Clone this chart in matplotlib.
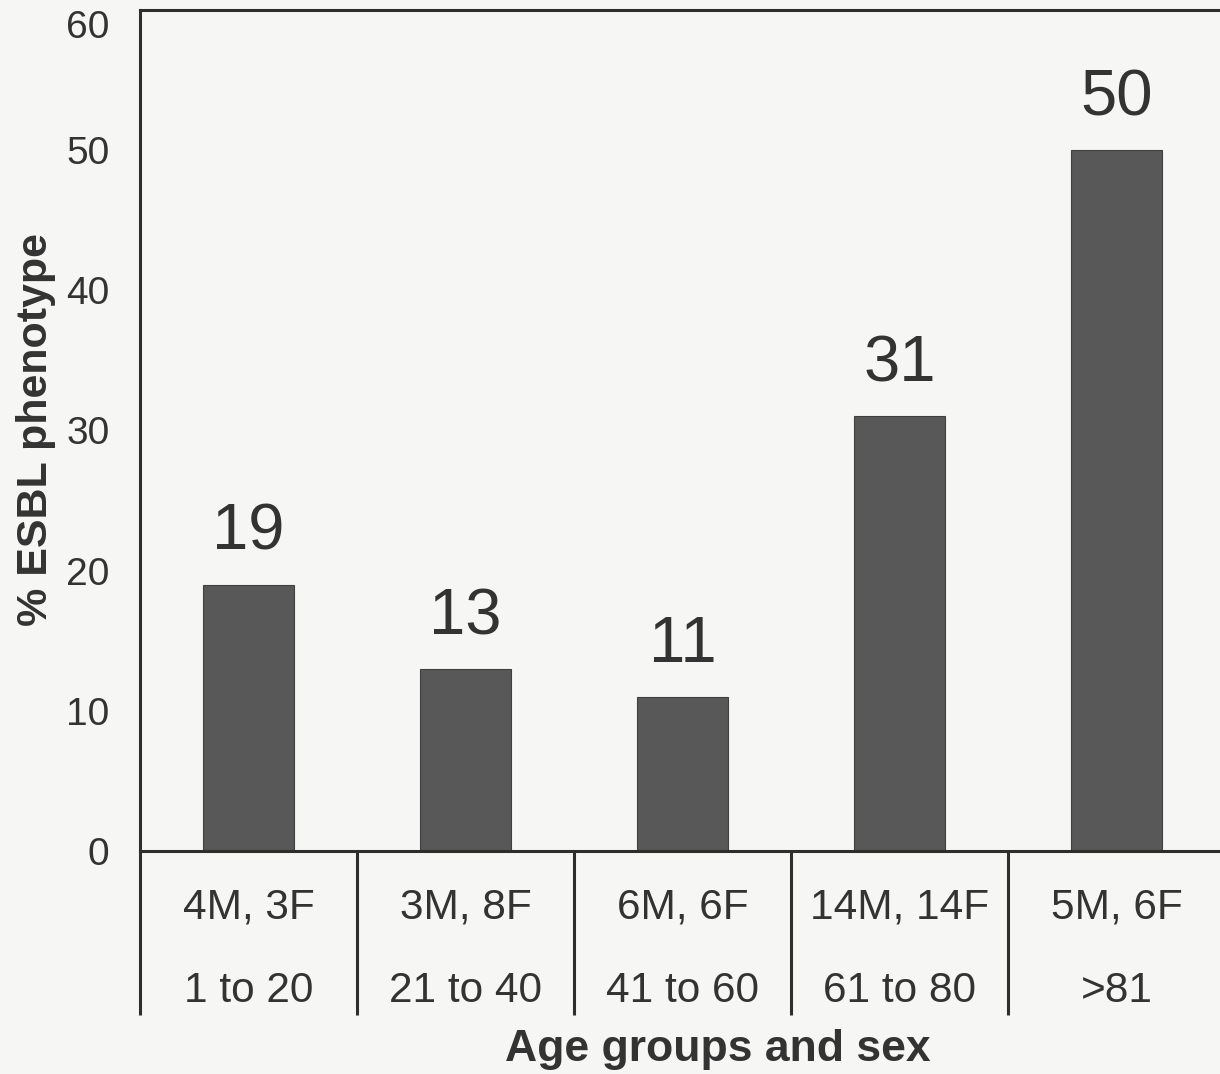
import matplotlib
matplotlib.use("Agg")
import matplotlib.pyplot as plt
import matplotlib.transforms as mtransforms

plt.rcParams['font.family'] = ['Liberation Sans', 'DejaVu Sans']

# ---- data ----
sex_counts = ["4M, 3F", "3M, 8F", "6M, 6F", "14M, 14F", "5M, 6F"]
age_groups = ["1 to 20", "21 to 40", "41 to 60", "61 to 80", ">81"]
esbl_pct = [19, 13, 11, 31, 50]
y_ticks = [0, 10, 20, 30, 40, 50, 60]

W, H = 1220, 1074
fig = plt.figure(figsize=(W / 100, H / 100), dpi=100)
bg = '#f6f6f4'
fig.patch.set_facecolor(bg)

ax_left, ax_right, ax_top, ax_bottom = 140, 1225, 10, 851
ax = fig.add_axes([ax_left / W, 1 - ax_bottom / H,
                   (ax_right - ax_left) / W, (ax_bottom - ax_top) / H])
ax.set_facecolor(bg)

txt_color = '#333333'
line_color = '#2e2e2e'
x = list(range(len(esbl_pct)))
ax.bar(x, esbl_pct, width=0.42, color='#585858', edgecolor='#404040', linewidth=0.8, zorder=2)

ax.set_xlim(-0.5, len(esbl_pct) - 0.5)
ax.set_ylim(0, 60)
ax.set_yticks(y_ticks)
ax.set_yticklabels([str(v) for v in y_ticks])
ax.tick_params(axis='y', length=0, pad=22, labelsize=28, labelcolor=txt_color)
ax.get_yticklabels()[-1].set_va('top')
ax.set_xticks([])

for s in ['top', 'bottom', 'left', 'right']:
    ax.spines[s].set_color(line_color)
    ax.spines[s].set_linewidth(2.2)
ax.spines['right'].set_visible(False)

# value labels
for xi, v in zip(x, esbl_pct):
    ax.annotate(str(v), (xi, v), xytext=(0, 25), textcoords='offset points',
                ha='center', va='baseline', fontsize=47, color=txt_color)

# table below axis
trans = mtransforms.blended_transform_factory(ax.transData, ax.transAxes)
y_low = -(1015 - ax_bottom) / (ax_bottom - ax_top)
bounds = [i - 0.5 for i in range(len(esbl_pct))]
ax.vlines(bounds, y_low, 0, transform=trans, colors=line_color,
          linewidth=2.2, clip_on=False)

row1 = -(907 - ax_bottom) / (ax_bottom - ax_top)
row2 = -(991 - ax_bottom) / (ax_bottom - ax_top)
for xi, s, a in zip(x, sex_counts, age_groups):
    ax.text(xi, row1, s, transform=trans, ha='center', va='center',
            fontsize=30.5, color=txt_color, clip_on=False)
    ax.text(xi, row2, a, transform=trans, ha='center', va='center',
            fontsize=30.5, color=txt_color, clip_on=False)

fig.text(718 / W, 1 - 1049 / H, "Age groups and sex", ha='center', va='center',
         fontsize=32, fontweight='bold', color=txt_color)
fig.text(36 / W, 1 - 429 / H, "% ESBL phenotype", ha='center', va='center',
         rotation=90, fontsize=31, fontweight='bold', color=txt_color)

fig.savefig("out.png", dpi=100, facecolor=bg)
